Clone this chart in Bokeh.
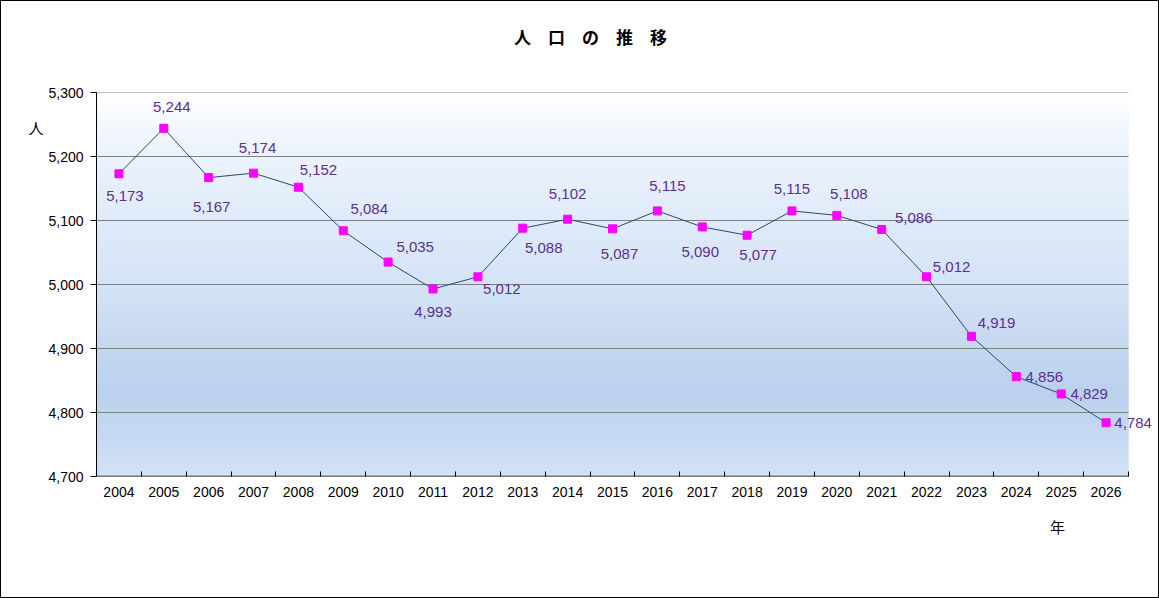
import numpy as np
from bokeh.plotting import figure
from bokeh.models import (ColumnDataSource, Range1d, FixedTicker, LabelSet,
                          LinearAxis, CustomJSTickFormatter)
from bokeh.core.properties import value
from bokeh.embed import file_html
from bokeh.resources import INLINE

# ---- data ----
years = ["2004", "2005", "2006", "2007", "2008", "2009", "2010", "2011",
         "2012", "2013", "2014", "2015", "2016", "2017", "2018", "2019",
         "2020", "2021", "2022", "2023", "2024", "2025", "2026"]
population = [5173, 5244, 5167, 5174, 5152, 5084, 5035, 4993, 5012, 5088,
              5102, 5087, 5115, 5090, 5077, 5115, 5108, 5086, 5012, 4919,
              4856, 4829, 4784]
y_ticks = [4700, 4800, 4900, 5000, 5100, 5200, 5300]
title_text = "人\u3000口\u3000の\u3000推\u3000移"
y_unit = "人"
x_unit = "年"

# label placement (screen px offsets: dx right, dy down)
label_dx = [6, 8, 3, 4, 20, 26, 27, 0, 24, 21, 0, 7, 10, -2, 11, 0, 12, 32, 25, 25, 28, 28, 27]
label_dy = [22, -21, 29, -25, -17, -22, -15, 23, 12, 20, -25, 25, -25, 25, 20, -22, -21, -11, -10, -13, 0, 0, 0]

n = len(years)
xs = [i + 0.5 for i in range(n)]
labels = [f"{v:,}" for v in population]

FONT = "Liberation Sans"
JFONT = "Noto Sans CJK JP"
LABEL_COLOR = "#5c2f90"

W, H = 1159, 598
LEFT, RIGHT_PLOT, RIGHT_FRAME, TOP, BOTTOM = 95, 1127, 1157, 91, 475
unit_px = (RIGHT_PLOT - LEFT) / n
x_end = (RIGHT_FRAME - LEFT) / unit_px

p = figure(width=W, height=H, output_backend="svg", toolbar_location=None,
           x_range=Range1d(0, x_end), y_range=Range1d(4700, 5300),
           min_border_left=LEFT, min_border_right=W - RIGHT_FRAME,
           min_border_top=TOP, min_border_bottom=H - BOTTOM)
p.outline_line_color = None
p.background_fill_color = None
p.border_fill_color = "white"
p.styles = {"border": "1px solid black", "box-sizing": "border-box"}

# background gradient (decorative bands across the y range)
stops_f = [0.0, 0.12, 0.5, 0.78, 1.0]
stops_c = [(255, 255, 255), (238, 245, 253), (212, 227, 246), (186, 208, 237), (210, 226, 246)]
nb = 120
edges = np.linspace(5300, 4700, nb + 1)
step = edges[0] - edges[1]
cols = []
for k in range(nb):
    f = (k + 0.5) / nb
    rgb = [int(round(np.interp(f, stops_f, [c[j] for c in stops_c]))) for j in range(3)]
    cols.append("#%02x%02x%02x" % tuple(rgb))
p.quad(left=0, right=n, top=edges[:-1], bottom=np.maximum(edges[1:] - step, 4700),
       fill_color=cols, line_color=None, level="underlay")

# horizontal grid lines, only across the plot area
p.xgrid.visible = False
p.ygrid.visible = False
grid_vals = y_ticks[1:]
p.segment(x0=[0] * len(grid_vals), x1=[n] * len(grid_vals), y0=grid_vals,
          y1=grid_vals, line_color="#808080", line_width=1, level="underlay")

# y axis
p.yaxis.ticker = FixedTicker(ticks=y_ticks)
p.yaxis.formatter = CustomJSTickFormatter(code="return tick.toLocaleString('en-US');")
p.yaxis.major_tick_in = 0
p.yaxis.major_tick_out = 6
p.yaxis.minor_tick_line_color = None
p.yaxis.major_label_standoff = 7
p.yaxis.axis_line_color = "black"
p.yaxis.major_label_text_font = FONT
p.yaxis.major_label_text_font_size = "14px"
p.yaxis.major_label_text_color = "black"

# x axis (category ticks between years)
p.xaxis.ticker = FixedTicker(ticks=xs, minor_ticks=list(range(1, n + 1)))
p.xaxis.major_label_overrides = {x: y for x, y in zip(xs, years)}
p.xaxis.major_tick_in = 0
p.xaxis.major_tick_out = 0
p.xaxis.minor_tick_in = 5
p.xaxis.minor_tick_out = 0
p.xaxis.minor_tick_line_color = "black"
p.xaxis.major_label_standoff = 10
p.xaxis.axis_line_color = None
p.xaxis.major_label_text_font = FONT
p.xaxis.major_label_text_font_size = "14px"
p.xaxis.major_label_text_color = "black"
p.segment(x0=0, x1=n, y0=4700, y1=4700, line_color="black", line_width=1.5)


def text_axis(loc, tick, text, standoff, size, bold=False):
    ax = LinearAxis(ticker=FixedTicker(ticks=[tick]),
                    major_label_overrides={tick: text},
                    axis_line_color=None, major_tick_line_color=None,
                    minor_tick_line_color=None, major_label_standoff=standoff,
                    major_label_text_font=JFONT,
                    major_label_text_font_size=size,
                    major_label_text_color="black",
                    major_label_text_font_style="bold" if bold else "normal")
    p.add_layout(ax, loc)
    return ax


# title above, unit labels as extra axes
text_axis("above", (589 - LEFT) / unit_px, title_text, 38, "17px", bold=True)
text_axis("left", 5245, y_unit, -4, "15px")
text_axis("below", (1056 - LEFT) / unit_px, x_unit, 10, "15px")

src = ColumnDataSource(dict(x=xs, y=population, lab=labels, dx=label_dx,
                            dy=[-d for d in label_dy]))
p.line("x", "y", source=src, line_color="#2c4670", line_width=1)
p.scatter("x", "y", source=src, marker="square", size=8, fill_color="#ff00ff",
          line_color="#ff00ff")
p.add_layout(LabelSet(x="x", y="y", text="lab", source=src, x_offset="dx",
                      y_offset="dy", text_align="center", text_baseline="middle",
                      text_font=value(FONT), text_font_size="15px",
                      text_color=LABEL_COLOR))

open("out.html", "w").write(file_html(p, INLINE))
